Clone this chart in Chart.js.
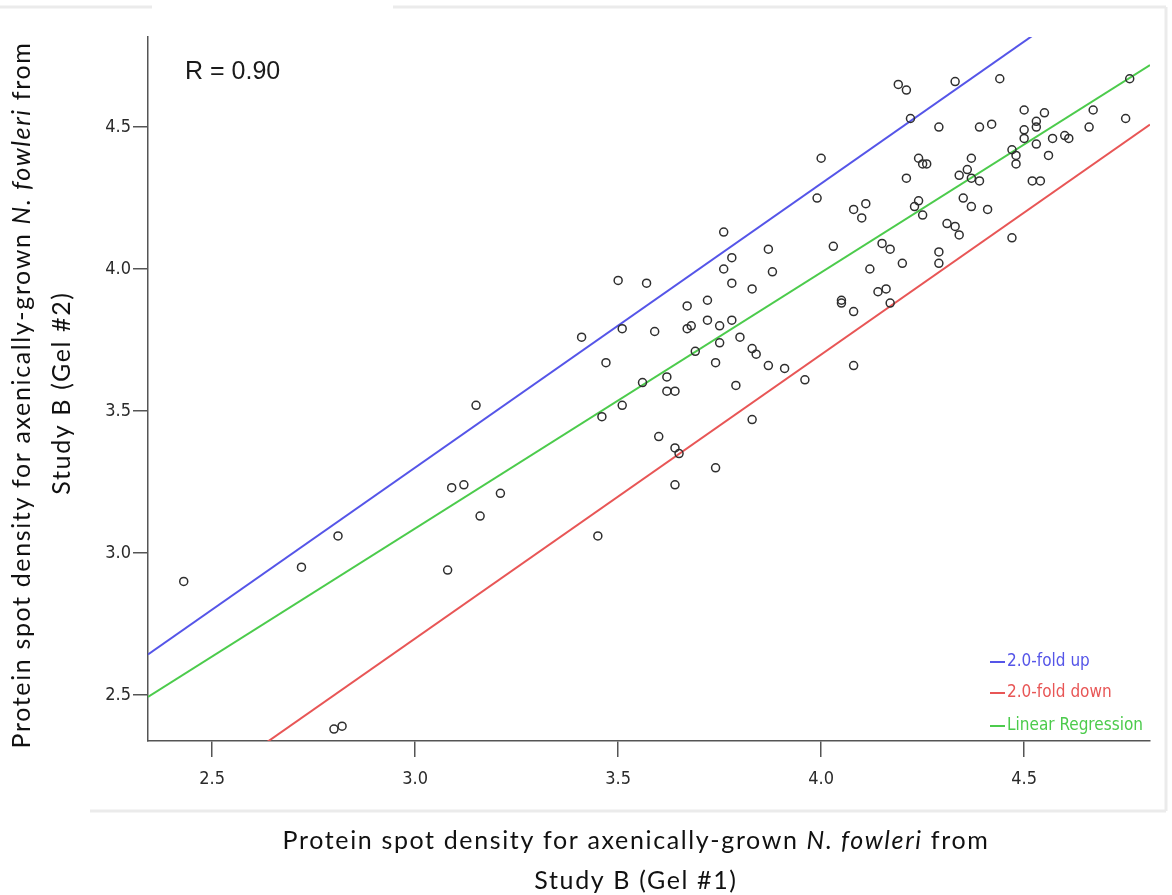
<!DOCTYPE html>
<html>
<head>
<meta charset="utf-8">
<script src="https://cdn.jsdelivr.net/npm/chart.js@4"></script>
<style>
  html, body { margin: 0; padding: 0; background: #ffffff; }
  #wrap { width: 1172px; height: 895px; position: relative; }
</style>
</head>
<body>
<div id="wrap"><canvas id="spotChart" width="1172" height="895"></canvas></div>
<script>
// Axis ranges and ticks
const X_MIN = 2.342, X_MAX = 4.81;
const Y_MIN = 2.338, Y_MAX = 4.817;
const X_TICKS = [2.5, 3.0, 3.5, 4.0, 4.5];
const Y_TICKS = [2.5, 3.0, 3.5, 4.0, 4.5];

// Spot densities, Gel #1 (x) vs Gel #2 (y)
const gel1 = [
    2.43, 2.72, 2.81, 2.80, 2.82, 3.08, 3.09, 3.12, 3.15, 3.16,
    3.21, 3.45, 3.50, 3.57, 3.41, 3.51, 3.59, 3.47, 3.56, 3.62,
    3.62, 3.64, 3.51, 3.46, 3.60, 3.64, 3.65, 3.64, 3.76, 3.87,
    3.88, 4.03, 3.78, 3.76, 4.15, 4.17, 4.20, 4.12, 3.78, 3.83,
    3.72, 3.67, 4.05, 4.05, 4.08, 4.14, 4.16, 4.17, 3.72, 3.68,
    3.67, 3.75, 3.78, 3.80, 3.75, 3.83, 3.84, 3.69, 3.74, 3.87,
    3.91, 4.08, 3.96, 3.79, 3.83, 3.74, 4.00, 3.99, 4.08, 4.11,
    4.10, 4.22, 4.24, 4.25, 4.26, 4.21, 4.24, 4.23, 4.25, 4.29,
    4.29, 4.19, 4.21, 4.33, 4.44, 4.29, 4.39, 4.42, 4.50, 4.55,
    4.53, 4.53, 4.50, 4.50, 4.53, 4.57, 4.56, 4.60, 4.61, 4.66,
    4.67, 4.75, 4.76, 4.47, 4.48, 4.48, 4.52, 4.54, 4.37, 4.36,
    4.37, 4.39, 4.34, 4.35, 4.37, 4.41, 4.31, 4.33, 4.34, 4.47
];
const gel2 = [
    2.90, 2.95, 3.06, 2.38, 2.39, 2.94, 3.23, 3.24, 3.52, 3.13,
    3.21, 3.06, 3.96, 3.95, 3.76, 3.79, 3.78, 3.67, 3.60, 3.62,
    3.57, 3.57, 3.52, 3.48, 3.41, 3.37, 3.35, 3.24, 4.13, 4.07,
    3.99, 4.08, 4.04, 4.00, 4.09, 4.07, 4.02, 4.00, 3.95, 3.93,
    3.89, 3.87, 3.89, 3.88, 3.85, 3.92, 3.93, 3.88, 3.82, 3.80,
    3.79, 3.80, 3.82, 3.76, 3.74, 3.72, 3.70, 3.71, 3.67, 3.66,
    3.65, 3.66, 3.61, 3.59, 3.47, 3.30, 4.39, 4.25, 4.21, 4.23,
    4.18, 4.53, 4.39, 4.37, 4.37, 4.32, 4.24, 4.22, 4.19, 4.06,
    4.02, 4.65, 4.63, 4.66, 4.67, 4.50, 4.50, 4.51, 4.56, 4.55,
    4.52, 4.50, 4.49, 4.46, 4.44, 4.46, 4.40, 4.47, 4.46, 4.50,
    4.56, 4.53, 4.67, 4.42, 4.40, 4.37, 4.31, 4.31, 4.39, 4.35,
    4.32, 4.31, 4.33, 4.25, 4.22, 4.21, 4.16, 4.15, 4.12, 4.11
];

// Reference lines (end points)
const lineX = [2.342, 4.81];
const foldUpY = [2.643, 5.111];
const foldDownY = [2.041, 4.509];
const regressionY = [2.493, 4.718];

const R_LABEL = 'R = 0.90';
const LEGEND_LABELS = ['2.0-fold up', '2.0-fold down', 'Linear Regression'];
const LEGEND_COLORS = ['#5555e8', '#e85656', '#4ccb4c'];

const X_TITLE = [['Protein spot density for axenically-grown ', false], ['N. fowleri', true], [' from', false]];
const X_TITLE_2 = 'Study B (Gel #1)';
const Y_TITLE = [['Protein spot density for axenically-grown ', false], ['N. fowleri', true], [' from', false]];
const Y_TITLE_2 = 'Study B (Gel #2)';

const TICK_FONT = "'Liberation Sans Narrow', 'Arial Narrow', 'DejaVu Sans Condensed', sans-serif";
const TITLE_FONT = "Lato, 'Open Sans', sans-serif";
const TITLE_SIZE = 25;

function toPoints(xs, ys) {
    return xs.map((x, i) => ({ x: x, y: ys[i] }));
}

function partsWidth(ctx, parts) {
    let w = 0;
    parts.forEach(p => {
        ctx.font = (p[1] ? 'italic ' : '') + TITLE_SIZE + 'px ' + TITLE_FONT;
        w += ctx.measureText(p[0]).width;
    });
    return w;
}

function drawMixed(ctx, parts, cx, cy) {
    const total = partsWidth(ctx, parts);
    let x = cx - total / 2;
    parts.forEach(p => {
        ctx.font = (p[1] ? 'italic ' : '') + TITLE_SIZE + 'px ' + TITLE_FONT;
        ctx.fillText(p[0], x, cy);
        x += ctx.measureText(p[0]).width;
    });
}

// Panel frame, R label, inner legend and axis titles
const decorations = {
    id: 'decorations',
    beforeDraw(chart) {
        const ctx = chart.ctx;
        ctx.save();
        ctx.fillStyle = '#ffffff';
        ctx.fillRect(0, 0, chart.width, chart.height);
        ctx.strokeStyle = '#ebebeb';
        ctx.lineWidth = 3;
        ctx.beginPath();
        ctx.moveTo(0, 7); ctx.lineTo(152, 7);
        ctx.moveTo(393, 7); ctx.lineTo(1166, 7);
        ctx.moveTo(1166, 7); ctx.lineTo(1166, 811);
        ctx.moveTo(90, 811); ctx.lineTo(1166, 811);
        ctx.stroke();
        ctx.restore();
    },
    afterDraw(chart) {
        const ctx = chart.ctx;
        const area = chart.chartArea;
        ctx.save();

        // correlation label
        ctx.fillStyle = '#1a1a1a';
        ctx.font = "25px 'Liberation Sans', Arial, sans-serif";
        ctx.textBaseline = 'middle';
        ctx.textAlign = 'left';
        ctx.fillText(R_LABEL, area.left + 37, area.top + 35);

        // legend inside the plot, bottom right
        const rows = [area.bottom - 79, area.bottom - 48, area.bottom - 15];
        ctx.font = '17px ' + TICK_FONT;
        LEGEND_LABELS.forEach((label, i) => {
            ctx.strokeStyle = LEGEND_COLORS[i];
            ctx.lineWidth = 2;
            ctx.beginPath();
            ctx.moveTo(990, rows[i]);
            ctx.lineTo(1005, rows[i]);
            ctx.stroke();
            ctx.fillStyle = LEGEND_COLORS[i];
            ctx.fillText(label, 1007, rows[i]);
        });

        // axis titles, spaced out to the width of the original
        ctx.fillStyle = '#111111';
        ctx.textAlign = 'left';
        const base = partsWidth(ctx, X_TITLE);
        const n = X_TITLE.reduce((s, p) => s + p[0].length, 0);
        const spacing = Math.max(0, (707 - base) / n);
        if ('letterSpacing' in ctx) ctx.letterSpacing = spacing.toFixed(2) + 'px';
        drawMixed(ctx, X_TITLE, 636, 841);
        ctx.font = TITLE_SIZE + 'px ' + TITLE_FONT;
        ctx.textAlign = 'center';
        ctx.fillText(X_TITLE_2, 636, 881);

        ctx.save();
        ctx.translate(22, 395);
        ctx.rotate(-Math.PI / 2);
        ctx.textAlign = 'left';
        drawMixed(ctx, Y_TITLE, 0, 0);
        ctx.restore();
        ctx.save();
        ctx.translate(62, 393);
        ctx.rotate(-Math.PI / 2);
        ctx.font = TITLE_SIZE + 'px ' + TITLE_FONT;
        ctx.textAlign = 'center';
        ctx.fillText(Y_TITLE_2, 0, 0);
        ctx.restore();

        ctx.restore();
    }
};

function lineSet(label, ys, color) {
    return {
        type: 'line',
        label: label,
        data: toPoints(lineX, ys),
        borderColor: color,
        borderWidth: 2,
        pointRadius: 0,
        fill: false,
        tension: 0
    };
}

document.addEventListener('DOMContentLoaded', function() {
    const ctx = document.getElementById('spotChart');
    new Chart(ctx, {
        type: 'scatter',
        data: {
            datasets: [{
                label: 'Spots',
                data: toPoints(gel1, gel2),
                pointStyle: 'circle',
                pointRadius: 4,
                pointBorderWidth: 1.5,
                borderColor: '#2e2e2e',
                backgroundColor: 'rgba(255,255,255,0)',
                pointBackgroundColor: 'rgba(255,255,255,0)'
            },
            lineSet(LEGEND_LABELS[0], foldUpY, LEGEND_COLORS[0]),
            lineSet(LEGEND_LABELS[1], foldDownY, LEGEND_COLORS[1]),
            lineSet(LEGEND_LABELS[2], regressionY, LEGEND_COLORS[2])]
        },
        options: {
            responsive: false,
            animation: false,
            layout: { padding: { left: 0, top: 37, right: 22, bottom: 0 } },
            plugins: {
                legend: { display: false },
                tooltip: { enabled: false }
            },
            scales: {
                x: {
                    type: 'linear',
                    min: X_MIN,
                    max: X_MAX,
                    afterBuildTicks: scale => { scale.ticks = X_TICKS.map(v => ({ value: v })); },
                    afterFit: scale => { scale.height = 154; },
                    ticks: {
                        callback: v => Number(v).toFixed(1),
                        font: { family: TICK_FONT, size: 18 },
                        color: '#2a2a2a',
                        padding: 12,
                        maxRotation: 0
                    },
                    grid: { drawOnChartArea: false, drawTicks: true, tickLength: 16, color: '#555555', lineWidth: 1.5 },
                    border: { color: '#555555', width: 1.5 }
                },
                y: {
                    type: 'linear',
                    min: Y_MIN,
                    max: Y_MAX,
                    afterBuildTicks: scale => { scale.ticks = Y_TICKS.map(v => ({ value: v })); },
                    afterFit: scale => { scale.width = 148; },
                    ticks: {
                        callback: v => Number(v).toFixed(1),
                        font: { family: TICK_FONT, size: 18 },
                        color: '#2a2a2a',
                        padding: 2
                    },
                    grid: { drawOnChartArea: false, drawTicks: true, tickLength: 15, color: '#555555', lineWidth: 1.5 },
                    border: { color: '#555555', width: 1.5 }
                }
            }
        },
        plugins: [decorations]
    });
});
</script>
</body>
</html>
